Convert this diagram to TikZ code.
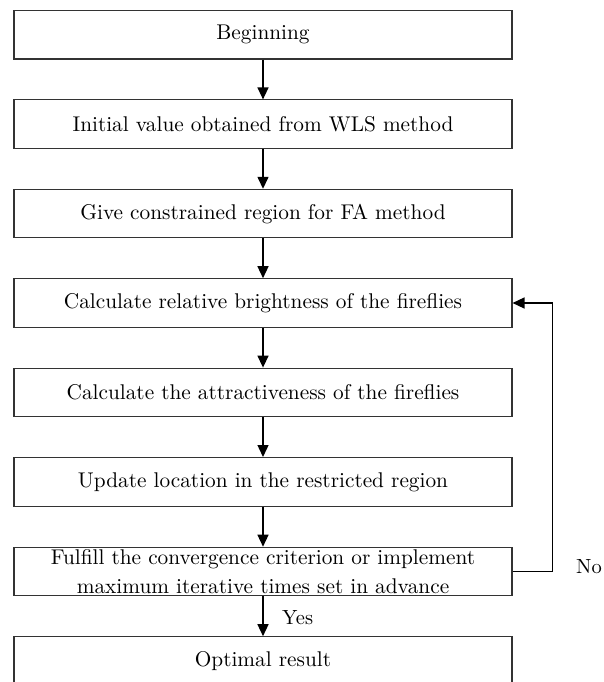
\documentclass[tikz,border=0pt]{standalone}
\usepackage{fontspec}
\setmainfont{lmroman10-regular.otf}
\usetikzlibrary{arrows.meta}
\begin{document}
\begin{tikzpicture}[x=1pt,y=-1pt,
  box/.style={draw=black!80,line width=1.1pt,minimum width=498pt,minimum height=48.5pt,inner sep=0pt,font=\fontsize{21.3}{28.5}\selectfont,align=center},
  arr/.style={draw=black,line width=1.4pt,-{Triangle[width=11pt,length=12pt]}},
  lbl/.style={font=\fontsize{20.5}{25}\selectfont,inner sep=0pt}]
\useasboundingbox (0,0) rectangle (603,682);
\clip (0,0) rectangle (603,682);
\node[box] (b1) at (263,34.8) {Beginning};
\node[box] (b2) at (263,124.2) {Initial value obtained from WLS method};
\node[box] (b3) at (263,213.6) {Give constrained region for FA method};
\node[box] (b4) at (263,303) {Calculate relative brightness of the fireflies};
\node[box] (b5) at (263,392.4) {Calculate the attractiveness of the fireflies};
\node[box] (b6) at (263,481.8) {Update location in the restricted region};
\node[box] (b7) at (263,571.5) {Fulfill the convergence criterion or implement\\maximum iterative times set in advance};
\node[box] (b8) at (263,661) {Optimal result};
\draw[arr] (b1) -- (b2);
\draw[arr] (b2) -- (b3);
\draw[arr] (b3) -- (b4);
\draw[arr] (b4) -- (b5);
\draw[arr] (b5) -- (b6);
\draw[arr] (b6) -- (b7);
\draw[arr] (b7) -- (b8);
\coordinate (c1) at (552.7,571.5);
\draw[arr] (b7.east) -- (c1) |- (b4.east);
\node[lbl,anchor=west] (no) at (576,567) {No};
\node[lbl,anchor=west] (yes) at (282,618) {Yes};
\end{tikzpicture}
\end{document}
